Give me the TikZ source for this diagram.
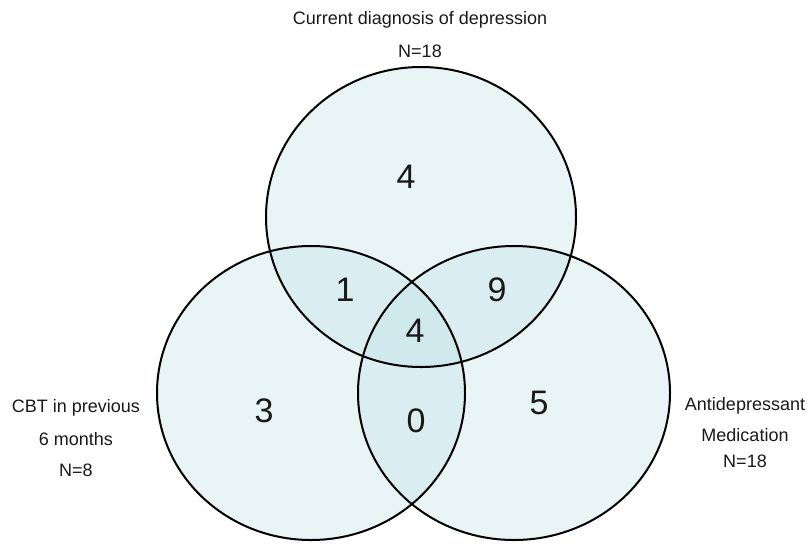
\documentclass[tikz,border=0pt]{standalone}
\usepackage{fontspec}
\setmainfont{Liberation Sans}
\definecolor{vennfill}{RGB}{190,224,229}
\definecolor{txt}{RGB}{25,25,25}
\begin{document}
\begin{tikzpicture}[x=1pt,y=-1pt,
  setfill/.style={fill=vennfill,fill opacity=0.35},
  setline/.style={draw=black,line width=2pt},
  count/.style={font=\fontsize{34}{34}\selectfont,text=txt,inner sep=0pt},
  lab/.style={font=\fontsize{18}{18}\selectfont,text=txt,inner sep=0pt}]
\useasboundingbox (0,0) rectangle (811,544);
% fills
\fill[setfill] (421,217) ellipse [x radius=155, y radius=150];
\fill[setfill] (311,393) ellipse [x radius=154, y radius=147];
\fill[setfill] (514,393) ellipse [x radius=156, y radius=147];
% outlines
\draw[setline] (421,217) ellipse [x radius=155, y radius=150];
\draw[setline] (311,393) ellipse [x radius=154, y radius=147];
\draw[setline] (514,393) ellipse [x radius=156, y radius=147];
% counts
\node[count] (a) at (406,177) {4};
\node[count] (ab) at (345,290) {1};
\node[count] (ac) at (497,290) {9};
\node[count] (abc) at (415,331) {4};
\node[count] (b) at (264,411) {3};
\node[count] (bc) at (416,421) {0};
\node[count] (c) at (539,403) {5};
% labels
\node[lab] (t1) at (420,20) {Current diagnosis of depression};
\node[lab] (t2) at (420,51) {N=18};
\node[lab] (l1) at (76,408) {CBT in previous};
\node[lab] (l2) at (76,439) {6 months};
\node[lab] (l3) at (76,470) {N=8};
\node[lab] (r1) at (745,406) {Antidepressant};
\node[lab] (r2) at (745,435) {Medication};
\node[lab] (r3) at (745,461) {N=18};
\end{tikzpicture}
\end{document}
